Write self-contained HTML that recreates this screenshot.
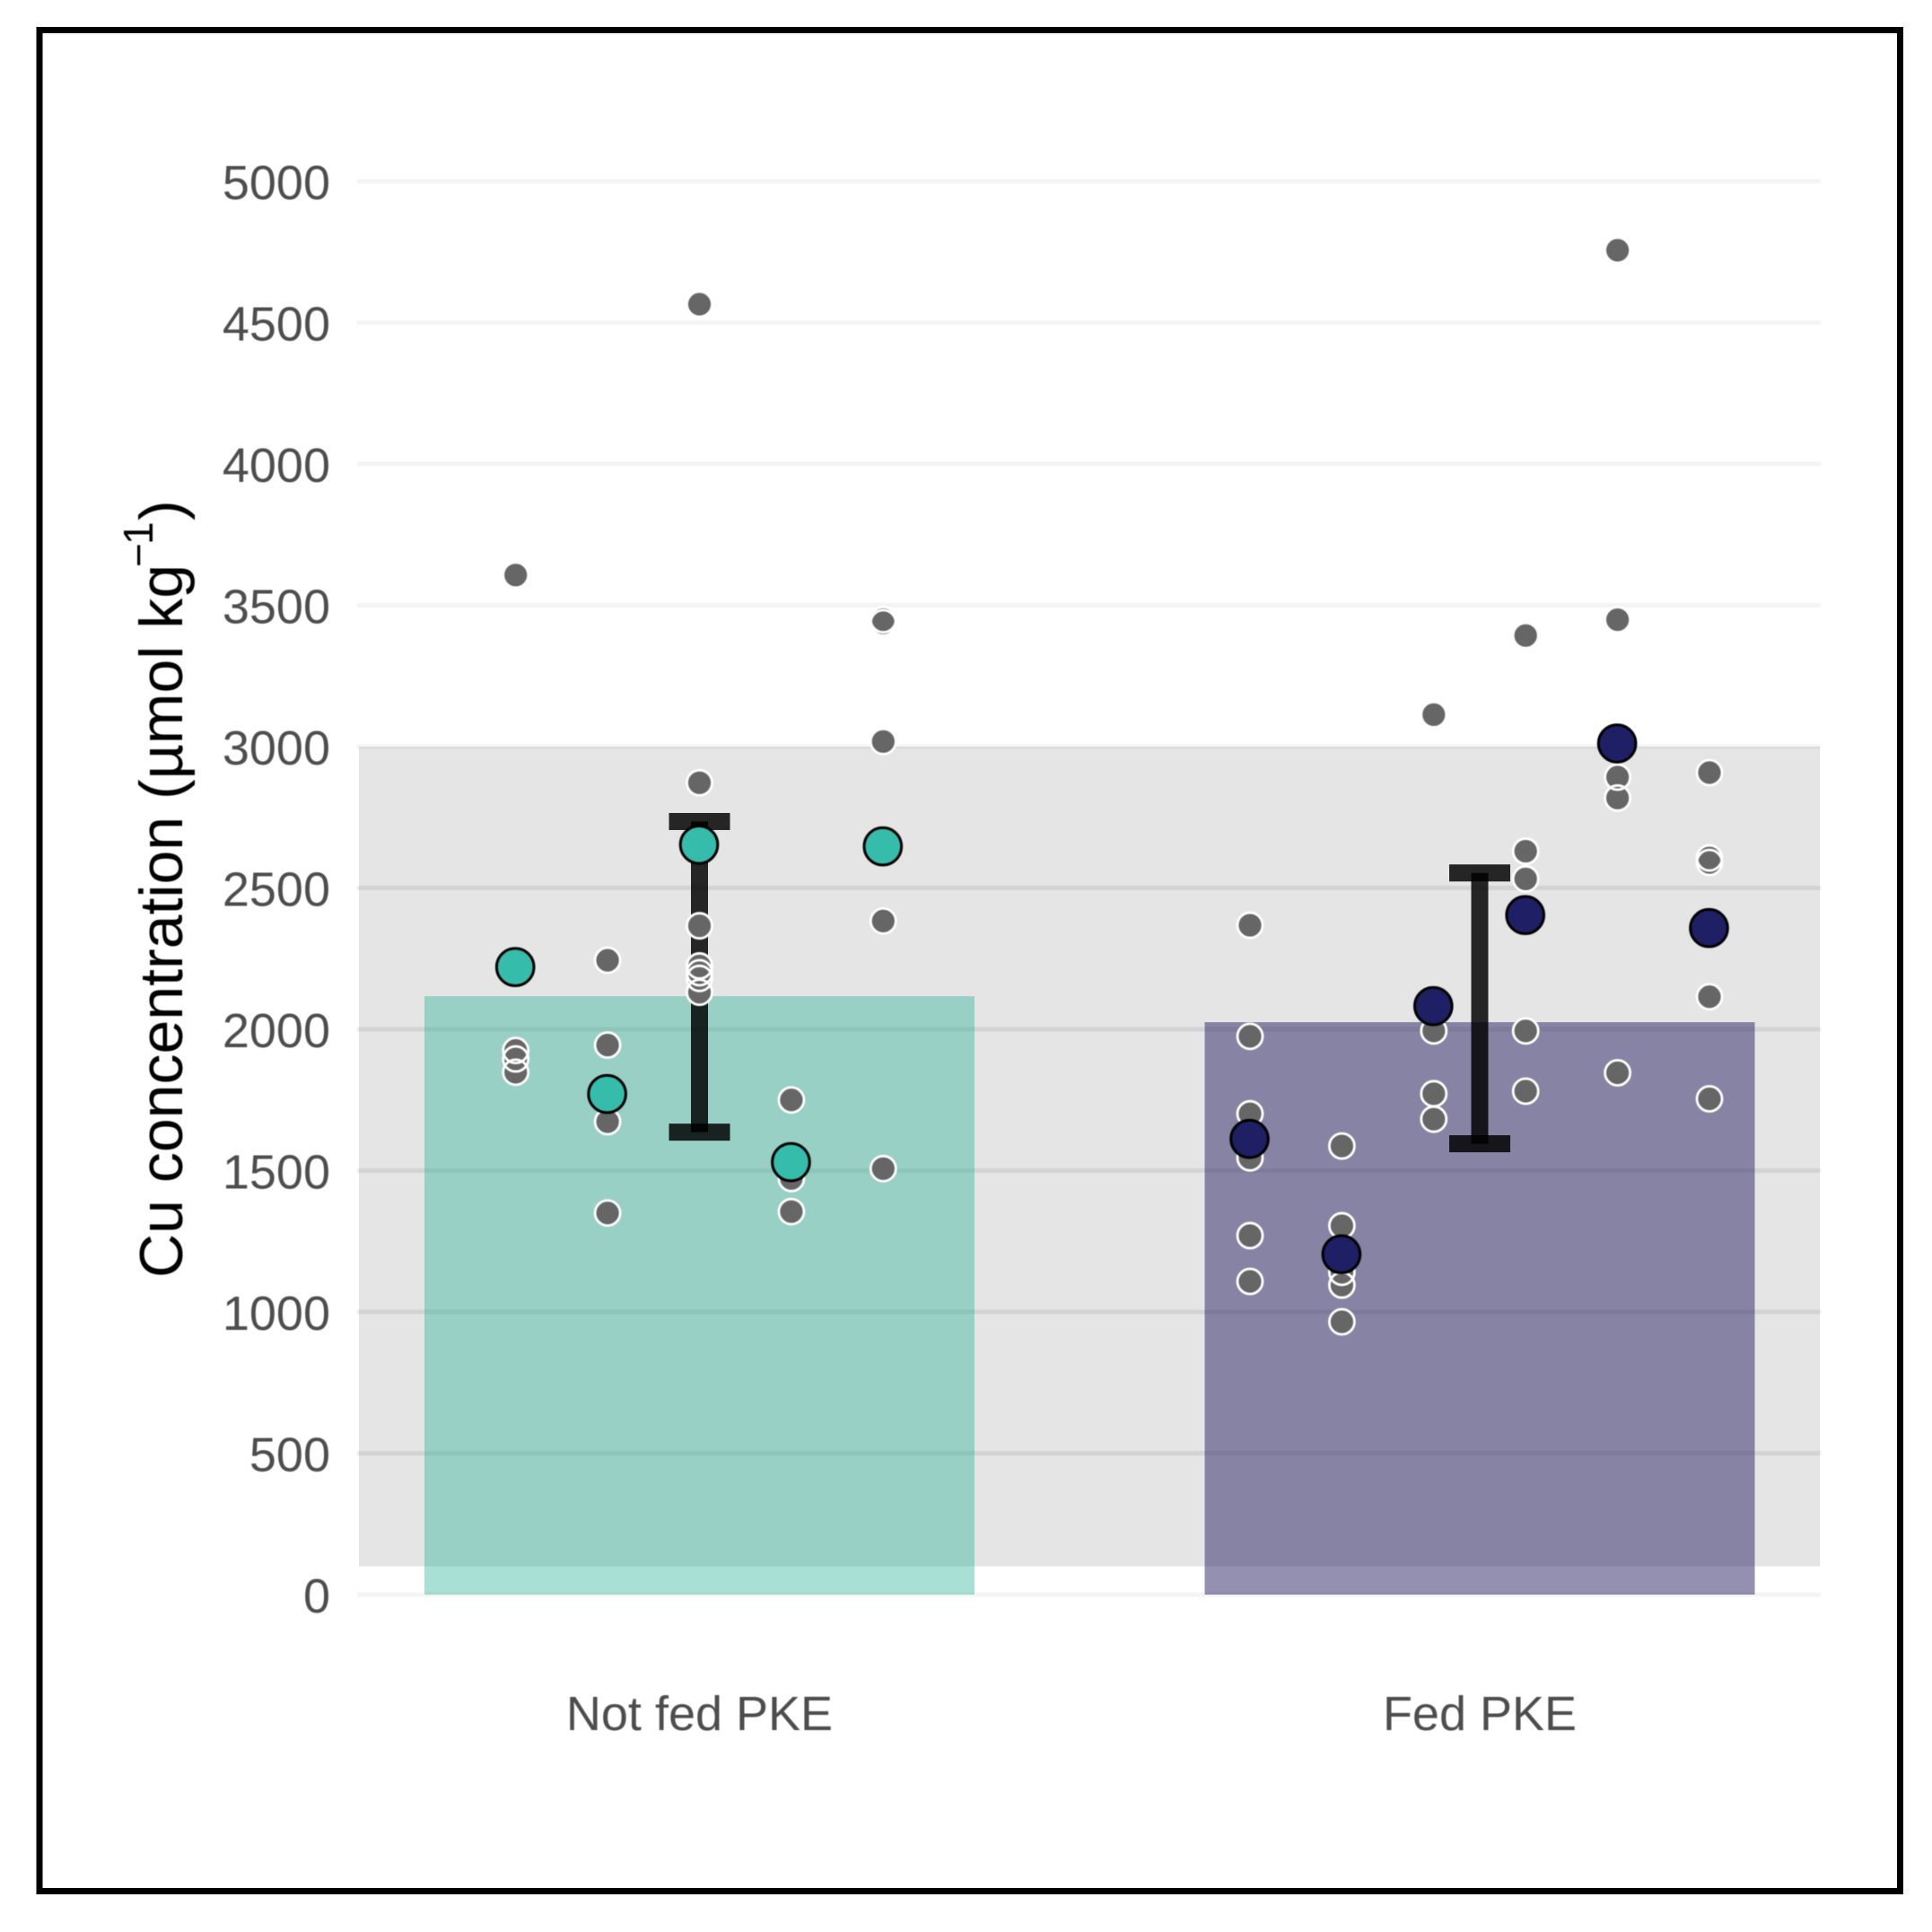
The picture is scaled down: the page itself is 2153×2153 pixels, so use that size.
<!DOCTYPE html>
<html lang="en">
<head>
<meta charset="utf-8">
<title>Cu concentration chart</title>
<style>
  html, body { margin: 0; padding: 0; background: #fff; }
  svg { display: block; }
  text { font-family: "Liberation Sans", sans-serif; }
  .soft { filter: blur(0.6px); }
</style>
</head>
<body>
<svg id="chart" xmlns="http://www.w3.org/2000/svg" width="2153" height="2153" viewBox="0 0 2153 2153">
  <rect x="0" y="0" width="2153" height="2153" fill="#ffffff"/>
  <rect x="44" y="33.5" width="2073.5" height="2074" fill="none" stroke="#000000" stroke-width="7"/>
  <g id="grid" class="soft"></g>
  <g id="band"></g>
  <g id="bars"></g>
  <g id="errors"></g>
  <g id="rawdots" class="soft"></g>
  <g id="meandots" class="soft"></g>
  <g id="yticks" class="soft"></g>
  <g id="xticks" class="soft"></g>
  <text class="soft" transform="translate(203,1424) rotate(-90)" font-size="68" fill="#000000">Cu concentration (µmol kg<tspan x="792" y="-33" font-size="46">−</tspan><tspan x="817" y="-33" font-size="46">1</tspan><tspan x="844" y="0" font-size="68">)</tspan></text>
</svg>
<script>
const groupLabels = ["Not fed PKE", "Fed PKE"];
const yTickValues = [0, 500, 1000, 1500, 2000, 2500, 3000, 3500, 4000, 4500, 5000];
const bandRange = [100, 3000];
const barMeans = [2117, 2025];
const errorLow = [1636, 1595];
const errorHigh = [2735, 2553];
const animalMeansNotFed = [2220, 1771, 2653, 1530, 2647];
const animalMeansFed = [1612, 1204, 2082, 2404, 3011, 2358];
const rawNotFed = [
  [3607, 1925, 1895, 1848],
  [2244, 1944, 1673, 1350],
  [4565, 2872, 2366, 2224, 2200, 2180, 2131],
  [1750, 1472, 1355],
  [3449, 3438, 3018, 2383, 1507]
];
const rawFed = [
  [2368, 1975, 1701, 1545, 1270, 1108],
  [1587, 1305, 1140, 1095, 965],
  [3113, 1994, 1772, 1682],
  [3393, 2630, 2532, 1994, 1781],
  [4756, 3449, 2892, 2818, 1846],
  [2908, 2606, 2590, 2115, 1754]
];

const SVG_NS = "http://www.w3.org/2000/svg";
const plotLeft = 398, plotRight = 2029;
const groupFill = ["rgb(38,178,150)", "rgb(42,33,102)"];
const groupOpacity = [0.4, 0.5];
const meanFill = ["#36bcab", "#1f1f66"];
const barWidth = 613;
const animalSpacing = 102.4;

function yScale(v) { return 1777 - 0.315 * v; }
function xGroup(i) { return 779.5 + 869.5 * i; }
function xAnimal(g, j, n) { return xGroup(g) + (j - (n - 1) / 2) * animalSpacing; }
function make(tag, attrs, parent) {
  const el = document.createElementNS(SVG_NS, tag);
  for (const k in attrs) el.setAttribute(k, attrs[k]);
  parent.appendChild(el);
  return el;
}

const gridLayer = document.getElementById("grid");
const bandLayer = document.getElementById("band");
const barLayer = document.getElementById("bars");
const errLayer = document.getElementById("errors");
const rawLayer = document.getElementById("rawdots");
const meanLayer = document.getElementById("meandots");
const yTickLayer = document.getElementById("yticks");
const xTickLayer = document.getElementById("xticks");

yTickValues.forEach(function (v) {
  const inBand = v >= bandRange[0] && v < bandRange[1];
  const line = make("rect", { x: plotLeft, y: yScale(v) - 2.5, width: plotRight - plotLeft, height: 5, fill: inBand ? "#ebebeb" : "#f4f4f4" }, gridLayer);
  
  
  const label = make("text", { x: 368, y: yScale(v) + 20, "text-anchor": "end", "font-size": 54, fill: "#4d4d4d" }, yTickLayer);
  label.textContent = String(v);
  
  
});

const bandRect = make("rect", {
  x: 400, y: yScale(bandRange[1]), width: plotRight - 1 - 400,
  height: yScale(bandRange[0]) - yScale(bandRange[1]), fill: "#000000", "fill-opacity": 0.102
}, bandLayer);



groupLabels.forEach(function (name, g) {
  const cx = xGroup(g);

  const bar = make("rect", {
    x: cx - barWidth / 2, y: yScale(barMeans[g]), width: barWidth,
    height: yScale(0) - yScale(barMeans[g]), fill: groupFill[g], "fill-opacity": groupOpacity[g]
  }, barLayer);
  
  

  const yLow = yScale(errorLow[g]), yHigh = yScale(errorHigh[g]);
  const stem = make("rect", { x: cx - 9.5, y: yHigh, width: 19, height: yLow - yHigh, fill: "#000000", "fill-opacity": 0.84 }, errLayer);
  
  
  const capTop = make("rect", { x: cx - 34, y: yHigh - 9.5, width: 68, height: 19, fill: "#000000", "fill-opacity": 0.84 }, errLayer);
  
  
  const capBottom = make("rect", { x: cx - 34, y: yLow - 9.5, width: 68, height: 19, fill: "#000000", "fill-opacity": 0.84 }, errLayer);
  
  

  const tick = make("text", { x: cx, y: 1928, "text-anchor": "middle", "font-size": 54, fill: "#4d4d4d" }, xTickLayer);
  tick.textContent = name;
  
  
});

/* Gray fills first, white rings second: overlapping rings stay visible, as in the reference. */
[rawNotFed, rawFed].forEach(function (animals, g) {
  animals.forEach(function (values, j) {
    values.forEach(function (v) {
      const dot = make("circle", {
        cx: xAnimal(g, j, animals.length), cy: yScale(v), r: 13.5, fill: "#666666"
      }, rawLayer);
      
      
    });
  });
});
[rawNotFed, rawFed].forEach(function (animals, g) {
  animals.forEach(function (values, j) {
    values.forEach(function (v) {
      const ring = make("circle", {
        cx: xAnimal(g, j, animals.length), cy: yScale(v), r: 14,
        fill: "none", stroke: "#ffffff", "stroke-width": 2.8
      }, rawLayer);
      
      
    });
  });
});

[animalMeansNotFed, animalMeansFed].forEach(function (values, g) {
  values.forEach(function (v, j) {
    const dot = make("circle", {
      cx: xAnimal(g, j, values.length) - 0.5, cy: yScale(v), r: 20.8,
      fill: meanFill[g], stroke: "#000000", "stroke-width": 3
    }, meanLayer);
    
    
  });
});
</script>
</body>
</html>
